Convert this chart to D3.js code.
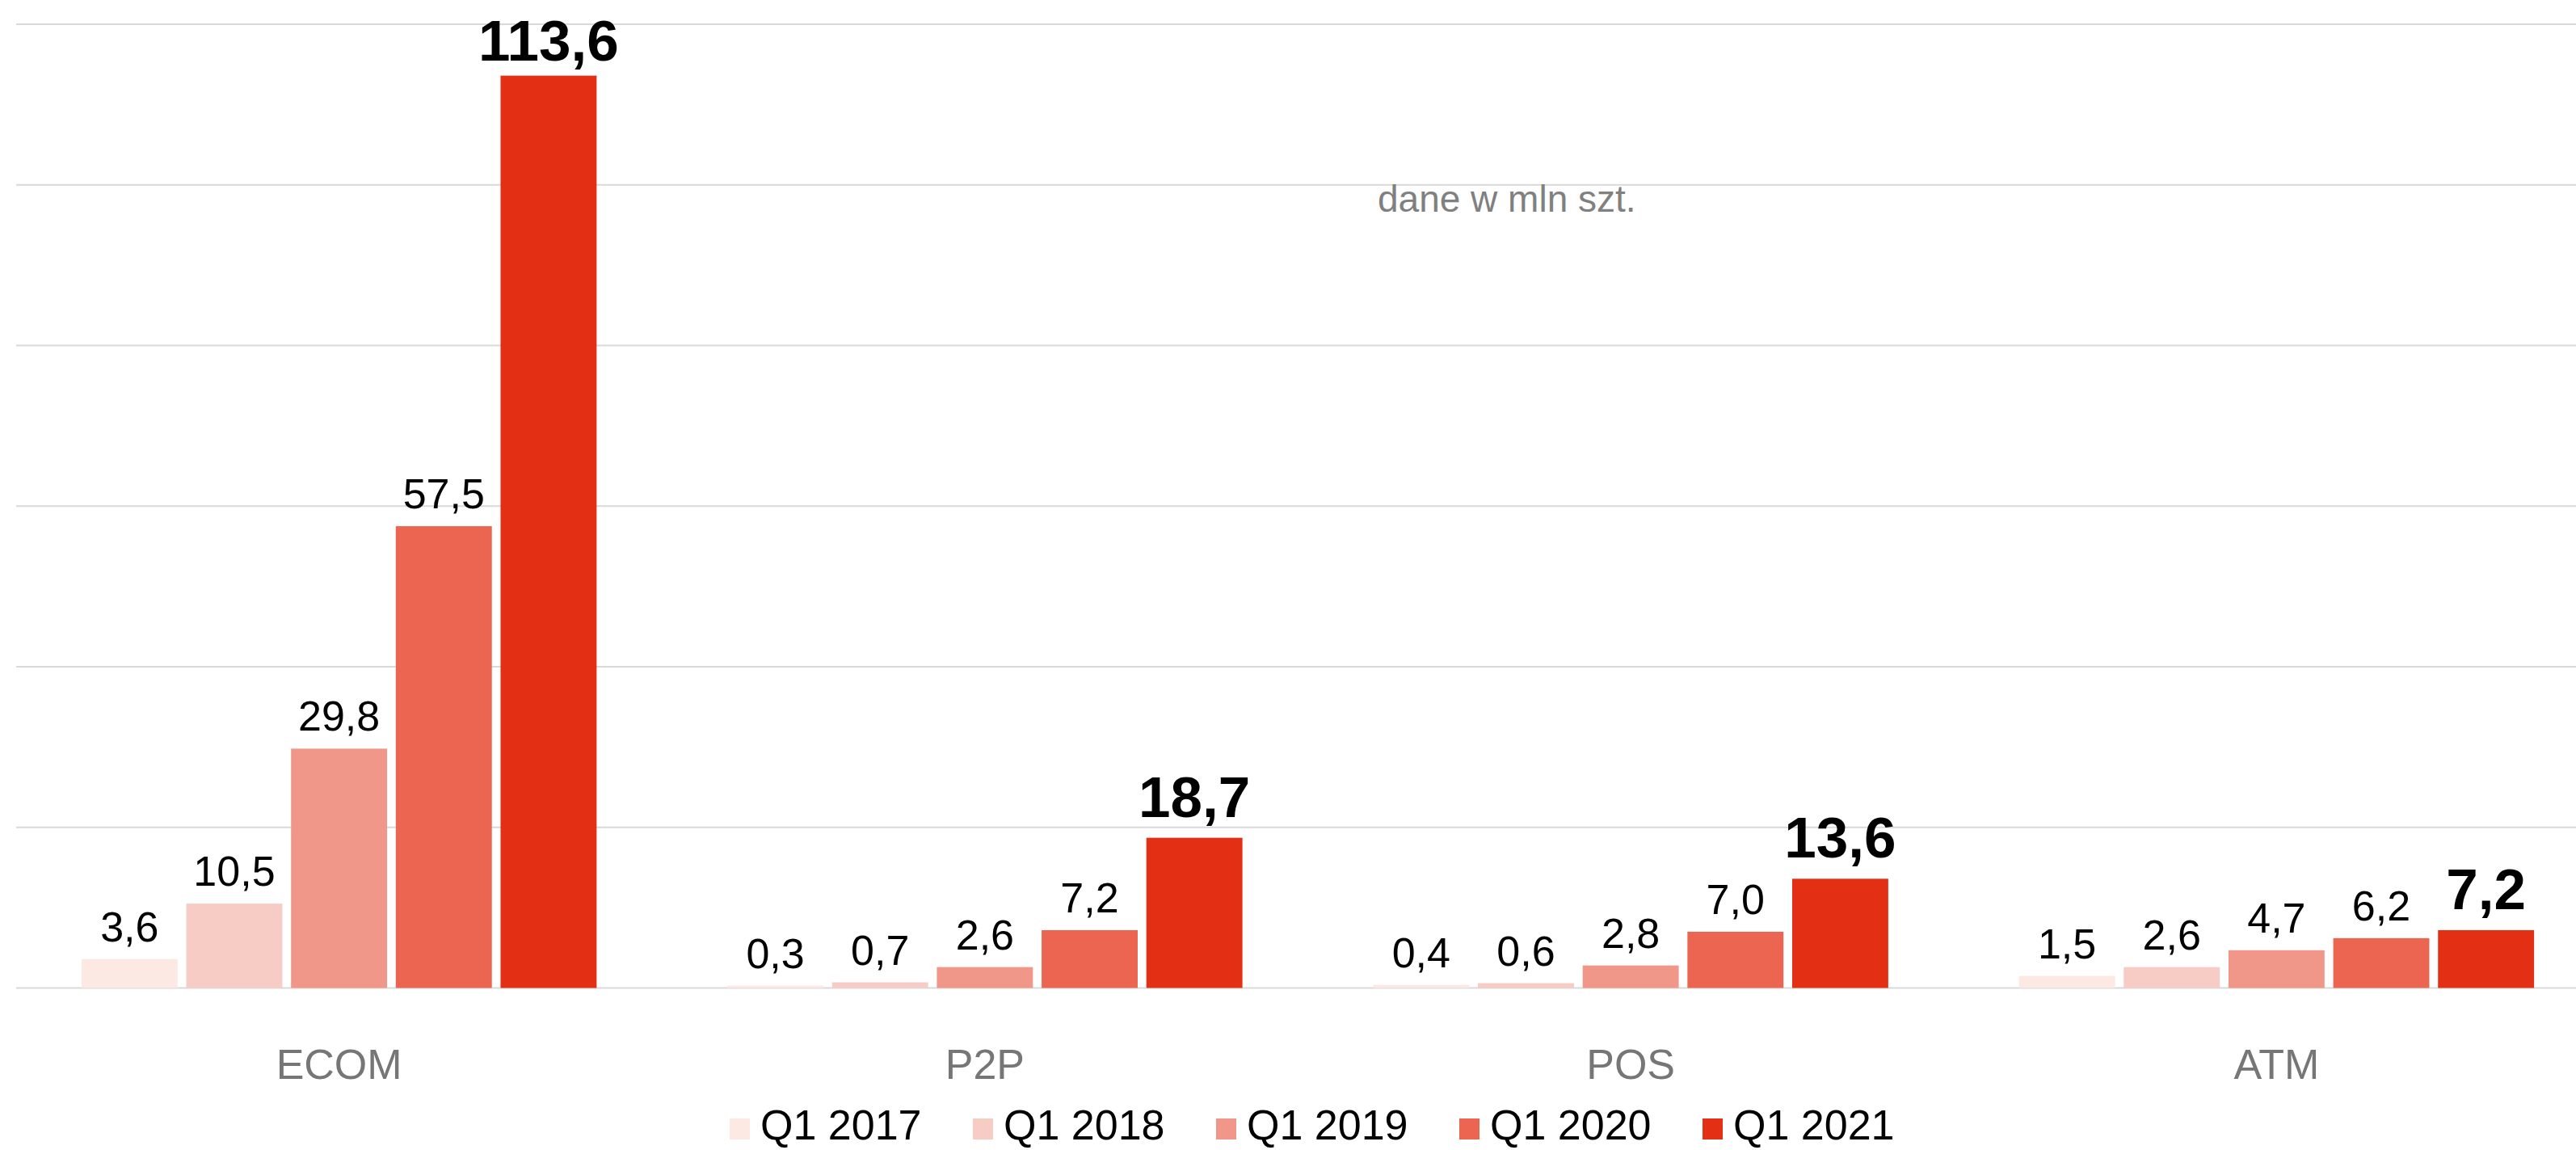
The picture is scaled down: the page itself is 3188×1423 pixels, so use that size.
<!DOCTYPE html>
<html>
<head>
<meta charset="utf-8">
<script src="https://cdn.jsdelivr.net/npm/d3@7"></script>
<style>
  html, body { margin: 0; padding: 0; background: #ffffff; }
  svg { display: block; font-family: "Liberation Sans", Arial, sans-serif; }
</style>
</head>
<body>
<svg id="chart" width="3188" height="1423"></svg>
<script>
const categories = ["ECOM", "P2P", "POS", "ATM"];
const seriesNames = ["Q1 2017", "Q1 2018", "Q1 2019", "Q1 2020", "Q1 2021"];
const seriesColors = ["#FCE9E4", "#F7CCC4", "#F09789", "#EC6550", "#E32F14"];
const q1_2017 = [3.6, 0.3, 0.4, 1.5];
const q1_2018 = [10.5, 0.7, 0.6, 2.6];
const q1_2019 = [29.8, 2.6, 2.8, 4.7];
const q1_2020 = [57.5, 7.2, 7.0, 6.2];
const q1_2021 = [113.6, 18.7, 13.6, 7.2];
const yTicks = [0, 20, 40, 60, 80, 100, 120];
const unitNote = "dane w mln szt.";

const seriesValues = [q1_2017, q1_2018, q1_2019, q1_2020, q1_2021];
const W = 3188, H = 1423;
const svg = d3.select("#chart");

const y = d3.scaleLinear().domain([0, 120]).range([1222.5, 30]);
const x0 = d3.scaleBand().domain(categories).range([20, 3217]).paddingInner(0).paddingOuter(0);
const x1 = d3.scaleBand().domain(seriesNames).range([0, x0.bandwidth()])
  .paddingInner(0.083).paddingOuter(0.624);

const fmt = v => d3.format(".1f")(v).replace(".", ",");

// gridlines
svg.append("g").selectAll("line").data(yTicks).join("line")
  .attr("x1", 20).attr("x2", 3217)
  .attr("y1", d => y(d)).attr("y2", d => y(d))
  .attr("stroke", "#d9d9d9").attr("stroke-width", 2);

// bars
const groups = svg.append("g").selectAll("g").data(categories).join("g")
  .attr("transform", d => `translate(${x0(d)},0)`);

groups.selectAll("rect")
  .data((c, ci) => seriesNames.map((s, si) => ({ s, si, v: seriesValues[si][ci] })))
  .join("rect")
  .attr("x", d => x1(d.s))
  .attr("width", x1.bandwidth())
  .attr("y", d => y(d.v))
  .attr("height", d => y(0) - y(d.v))
  .attr("fill", d => seriesColors[d.si]);

// value labels
groups.selectAll("text")
  .data((c, ci) => seriesNames.map((s, si) => ({ s, si, v: seriesValues[si][ci] })))
  .join("text")
  .attr("x", d => x1(d.s) + x1.bandwidth() / 2)
  .attr("y", d => d.si === 4 ? Math.max(y(d.v) - 26, 75) : y(d.v) - 22)
  .attr("text-anchor", "middle")
  .attr("fill", "#000")
  .attr("font-size", d => d.si === 4 ? 71 : 52)
  .attr("font-weight", d => d.si === 4 ? "bold" : "normal")
  .text(d => fmt(d.v));

// category axis labels
svg.append("g").selectAll("text").data(categories).join("text")
  .attr("x", d => x0(d) + x0.bandwidth() / 2)
  .attr("y", 1335)
  .attr("text-anchor", "middle")
  .attr("fill", "#767676")
  .attr("font-size", 52)
  .text(d => d);

// unit note
svg.append("text")
  .attr("x", 1705).attr("y", 262)
  .attr("fill", "#808080")
  .attr("font-size", 46)
  .text(unitNote);

// legend
const lx = d3.scalePoint().domain(seriesNames).range([903, 903 + 301 * 4]);
const leg = svg.append("g").selectAll("g").data(seriesNames).join("g")
  .attr("transform", d => `translate(${lx(d)},0)`);
leg.append("rect")
  .attr("x", 0).attr("y", 1384).attr("width", 25).attr("height", 26)
  .attr("fill", (d, i) => seriesColors[i]);
leg.append("text")
  .attr("x", 38).attr("y", 1410)
  .attr("fill", "#000")
  .attr("font-size", 52)
  .text(d => d);
</script>
</body>
</html>
